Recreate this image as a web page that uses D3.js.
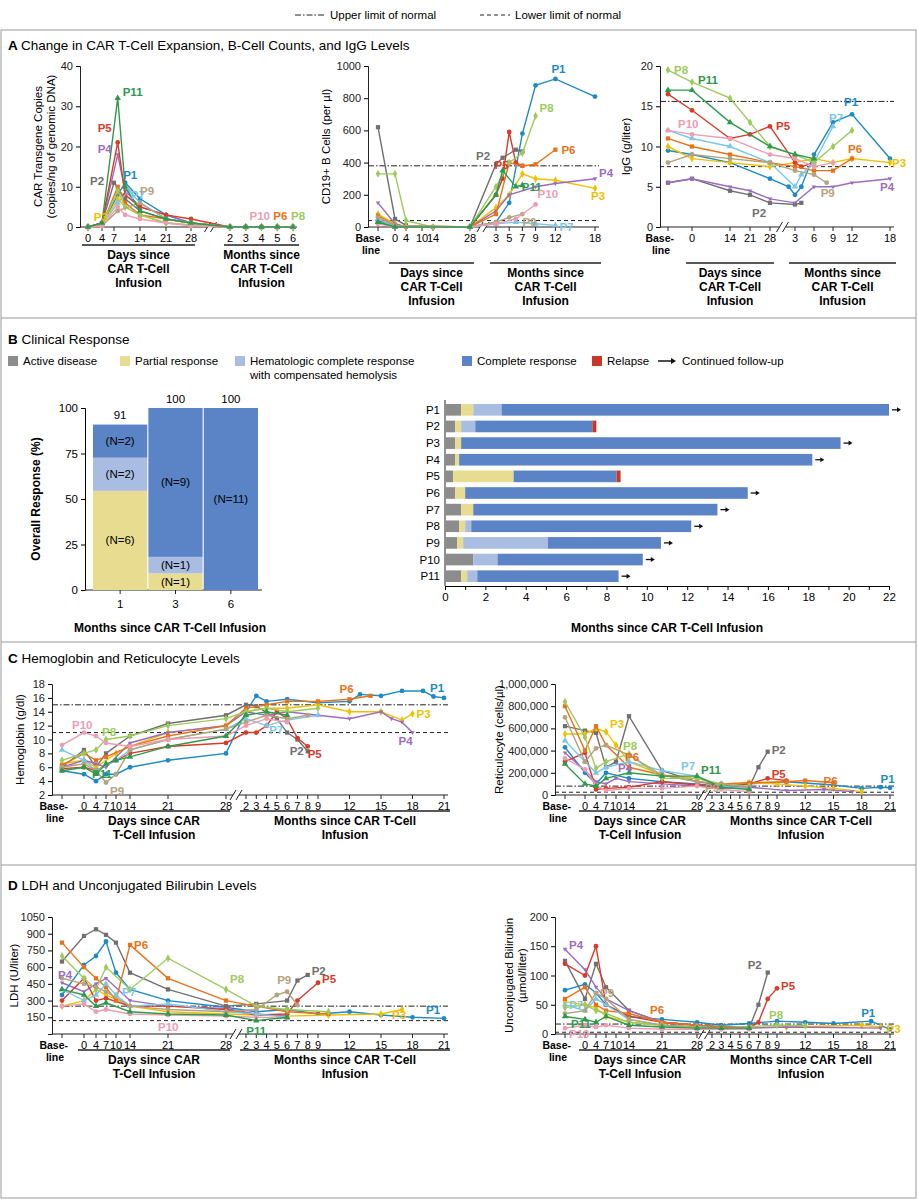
<!DOCTYPE html>
<html><head><meta charset="utf-8">
<script src="https://cdn.jsdelivr.net/npm/d3@7"></script>
<style>
body{margin:0;background:#fff;font-family:"Liberation Sans",Arial,sans-serif}
text{font-family:"Liberation Sans",Arial,sans-serif}
</style></head><body>
<svg id="chart" width="918" height="1200"></svg>
<script>
// ---------- data ----------
const patients = ["P1","P2","P3","P4","P5","P6","P7","P8","P9","P10","P11"];
const colors = ["#1d8ac4","#707070","#f0c000","#9b6cc0","#d83b2a","#e8721a","#7cc6ea","#9ccb5c","#b3a37e","#ee9cb2","#2e9a4c"];
const symbols = ["circle","square","diamond","triangleDown","circle","square","triangle","diamond","circle","circle","triangle"];
// time: "B" = baseline, <100 = days, >=100 = 100 + months
const monthsZero = [[102,0],[103,0],[104,0],[105,0],[106,0]];
const carT = {
  P1:[[0,0],[4,0.5],[8,8],[10,11],[14,7],[21,3],[28,1]],
  P2:[[0,0],[4,1],[7,11],[10,7],[14,4],[21,2],[28,1]],
  P3:[[0,0],[4,0.5],[8,7],[10,5],[14,3],[21,1],[28,0.5]],
  P4:[[0,0],[4,1],[8,18],[10,9],[14,5],[21,3],[28,1]],
  P5:[[0,0],[4,1],[8,21],[10,8],[14,5],[21,3],[28,2]],
  P6:[[0,0],[4,0.5],[8,10],[10,6],[14,3],[21,2],[28,1]],
  P7:[[0,0],[4,0.5],[8,6],[11,9],[14,6],[21,2],[28,1]],
  P8:[[0,0],[4,0.5],[8,9],[10,5],[14,3],[21,1],[28,0.5]],
  P9:[[0,0],[4,0.3],[8,4],[14,6],[21,2],[28,1]],
  P10:[[0,0],[4,0.2],[8,5],[10,3],[14,2],[21,1],[28,0.3]],
  P11:[[0,0],[4,1],[8,32],[10,10],[14,4],[21,2],[28,1]]
};
const cd19 = {
  P1:[["B",40],[0,10],[4,0],[14,0],[28,0],[103,30],[105,150],[107,580],[109,880],[112,920],[118,810]],
  P2:[["B",620],[0,50],[4,10],[14,0],[28,0],[103,390],[104,430],[106,480],[107,470]],
  P3:[["B",80],[0,20],[4,0],[28,0],[103,120],[105,200],[107,330],[109,300],[112,290],[118,240]],
  P4:[["B",150],[0,20],[4,0],[28,0],[103,100],[105,200],[109,250],[112,270],[118,300]],
  P5:[["B",30],[0,0],[28,0],[103,200],[104,300],[105,590],[106,400],[107,380]],
  P6:[["B",70],[0,10],[28,0],[103,80],[105,400],[107,380],[109,390],[112,480]],
  P7:[["B",50],[0,0],[28,0],[103,20],[106,30],[109,20],[112,10]],
  P8:[["B",330],[0,330],[4,40],[14,0],[28,0],[103,250],[105,400],[107,460],[109,690]],
  P9:[["B",60],[0,10],[28,0],[103,30],[105,60],[107,80]],
  P10:[["B",20],[0,0],[28,0],[103,20],[106,50],[109,140]],
  P11:[["B",30],[0,0],[28,0],[103,200],[104,350],[106,250],[107,260]]
};
const igg = {
  P1:[["B",9.5],[0,9],[14,8],[28,6],[102,5],[103,4],[104,5],[106,9],[109,13],[112,14],[118,8.5]],
  P2:[["B",5.5],[0,6],[14,4.5],[21,4],[28,3],[103,2.8],[104,3]],
  P3:[["B",10],[0,8.5],[14,8],[28,7.5],[103,8],[106,8.5],[109,8],[112,8.5],[118,8]],
  P4:[["B",5.5],[0,6],[14,5],[21,4.5],[28,3.5],[103,3],[106,5],[109,5],[112,5.5],[118,6]],
  P5:[["B",16.5],[0,14.5],[14,11],[21,11.5],[28,12.5],[103,8],[104,7.5],[106,8]],
  P6:[["B",11],[0,10],[14,9],[28,8],[103,7.5],[106,7],[109,7],[112,8.5]],
  P7:[["B",12],[0,11],[14,10],[28,8],[103,5],[104,6.5],[106,8],[109,12.5]],
  P8:[["B",19.5],[0,18],[14,16],[21,13],[28,10],[103,9],[106,8],[109,10],[112,12]],
  P9:[["B",8],[0,9],[14,8.5],[28,8],[103,7],[106,6.5],[108,5.5]],
  P10:[["B",12],[0,11.5],[14,11],[28,9],[103,8.5],[106,7.5],[109,8]],
  P11:[["B",17],[0,17],[14,13],[28,10],[103,9],[106,8.5]]
};
const hb = {
  P1:[["B",5.5],[0,5],[4,4],[7,5],[10,5],[14,6],[21,7],[28,8],[102,14],[103,16.3],[104,15.5],[106,15.8],[109,15.3],[112,15.5],[113,16.5],[115,16.3],[117,17],[119,17],[120,16.2],[121,16]],
  P2:[["B",6],[0,8.5],[4,6],[7,8],[14,10.5],[21,12.3],[28,13.5],[102,15],[103,14.8],[105,13],[106,11],[107,10],[108,8.3]],
  P3:[["B",6.5],[0,7],[4,6],[10,8],[14,9],[21,11],[28,12],[102,14],[104,14.5],[106,14.5],[109,15],[112,14],[115,14],[117,12.8],[118,13.7]],
  P4:[["B",6],[0,7],[4,6.5],[7,6],[14,9.5],[21,11],[28,12],[102,14],[104,13.5],[106,14],[109,13.5],[112,13],[115,14],[116,13],[117,12.5],[118,11]],
  P5:[["B",5.8],[0,6],[4,5.5],[10,7],[14,8],[21,9],[28,9.5],[102,11],[103,11],[104,12],[105,14],[106,13],[107,10.2],[108,9]],
  P6:[["B",6.3],[0,8],[4,7],[7,7.5],[14,9],[21,10.5],[28,12],[102,14.5],[104,15],[106,15.5],[109,15.5],[112,15.8],[114,16.3]],
  P7:[["B",8.5],[0,7],[4,5.5],[10,7],[14,8.5],[21,10],[28,11.5],[102,13],[104,12],[106,12.8],[109,13.5]],
  P8:[["B",7],[0,8],[4,8.5],[7,10],[14,10.5],[21,12],[28,13],[102,14],[104,14.5],[106,14],[109,14.5]],
  P9:[["B",6],[0,6.5],[4,5.5],[7,3.8],[10,5],[14,8.5],[21,10],[28,11.5],[102,12.5],[104,13.5],[106,13],[108,13.5]],
  P10:[["B",9.2],[0,11],[4,10.5],[7,9.5],[14,9],[21,10],[28,10.5],[102,12],[104,13],[106,12.5]],
  P11:[["B",5.5],[0,6],[4,5],[7,6.5],[10,7],[14,7.5],[21,9],[28,10.5],[102,13.5],[104,14],[106,13.5]]
};
// reticulocytes in thousands of cells per microliter
const retic = {
  P1:[["B",430],[0,200],[4,100],[7,200],[14,150],[21,120],[28,100],[103,80],[106,100],[110,120],[115,90],[118,60],[120,70],[121,65]],
  P2:[["B",620],[0,580],[4,560],[7,250],[10,300],[14,710],[21,220],[28,120],[102,100],[104,80],[106,70],[107,250],[108,390]],
  P3:[["B",550],[0,550],[4,600],[7,570],[10,450],[14,300],[21,180],[28,150],[103,90],[106,110],[109,100],[112,80],[115,60],[118,30]],
  P4:[["B",380],[0,220],[4,120],[7,100],[10,150],[14,120],[21,100],[28,80],[103,60],[106,70],[110,40],[114,50],[117,30]],
  P5:[["B",300],[0,380],[4,50],[7,60],[14,70],[21,120],[28,90],[103,70],[106,100],[108,150],[110,130]],
  P6:[["B",800],[0,400],[4,620],[7,450],[14,250],[21,180],[28,120],[103,100],[106,110],[110,120],[112,130],[115,110]],
  P7:[["B",490],[0,300],[4,200],[7,250],[14,300],[21,220],[28,170],[103,80],[106,60]],
  P8:[["B",840],[0,520],[4,240],[7,300],[14,370],[21,150],[28,150],[103,100],[106,80]],
  P9:[["B",700],[0,300],[4,420],[7,450],[14,360],[21,180],[28,120],[103,100],[106,70]],
  P10:[["B",330],[0,230],[4,90],[7,40],[14,60],[21,60],[28,80],[103,50],[106,30]],
  P11:[["B",280],[0,100],[4,80],[7,150],[14,200],[21,170],[28,170],[103,70],[106,50]]
};
const ldh = {
  P1:[["B",350],[0,620],[4,700],[7,830],[10,550],[14,400],[21,300],[28,240],[103,200],[106,220],[109,180],[112,200],[115,170],[118,150],[121,140]],
  P2:[["B",650],[0,880],[4,940],[7,890],[10,820],[14,550],[21,400],[28,250],[103,270],[106,300],[107,480],[108,530]],
  P3:[["B",250],[0,300],[4,400],[7,350],[14,250],[21,200],[28,180],[103,170],[106,160],[110,170],[115,180],[117,220]],
  P4:[["B",460],[0,380],[4,450],[7,500],[14,300],[21,250],[28,230],[103,180],[106,160]],
  P5:[["B",300],[0,500],[4,300],[7,320],[14,250],[21,250],[28,220],[103,170],[106,180],[107,300],[109,460]],
  P6:[["B",820],[0,600],[4,500],[7,420],[10,300],[14,800],[21,500],[28,300],[103,250],[106,200],[110,180]],
  P7:[["B",400],[0,300],[4,350],[7,450],[10,350],[14,250],[21,270],[28,200],[103,180],[106,150]],
  P8:[["B",700],[0,500],[4,400],[7,600],[14,400],[21,680],[28,400],[103,250],[106,220],[110,200]],
  P9:[["B",500],[0,450],[4,420],[7,380],[14,250],[21,220],[28,200],[103,220],[105,350],[106,380],[107,260]],
  P10:[["B",250],[0,270],[4,200],[7,220],[14,180],[21,170],[28,160],[103,150],[106,140]],
  P11:[["B",400],[0,350],[4,250],[7,280],[14,200],[21,180],[28,170],[103,120],[106,150]]
};
const bili = {
  P1:[["B",75],[0,85],[4,70],[7,50],[14,30],[21,25],[28,20],[103,15],[106,18],[109,22],[112,20],[115,18],[119,22],[121,8]],
  P2:[["B",125],[0,60],[4,120],[7,80],[14,40],[21,20],[28,15],[103,12],[106,10],[107,50],[108,105]],
  P3:[["B",55],[0,50],[4,45],[7,30],[14,20],[21,15],[28,12],[103,10],[110,12],[118,15],[120,12]],
  P4:[["B",145],[0,110],[4,80],[7,60],[14,40],[21,20],[28,15],[103,12],[106,10],[110,12],[120,10]],
  P5:[["B",120],[0,100],[4,150],[7,50],[14,30],[21,20],[28,15],[103,12],[106,10],[107,20],[108,60],[109,78]],
  P6:[["B",60],[0,80],[4,50],[7,40],[14,35],[21,20],[28,15],[103,12],[106,12]],
  P7:[["B",50],[0,40],[4,60],[7,50],[14,25],[21,15],[28,12],[103,10],[106,10]],
  P8:[["B",45],[0,50],[4,40],[7,35],[14,20],[21,15],[28,12],[103,10],[109,15],[112,14]],
  P9:[["B",35],[0,40],[4,70],[7,60],[14,25],[21,15],[28,12],[103,10],[106,12]],
  P10:[["B",10],[0,15],[4,12],[7,15],[14,10],[21,8],[28,8],[103,8],[106,8]],
  P11:[["B",30],[0,25],[4,20],[7,30],[14,15],[21,12],[28,10],[103,10],[106,10]]
};
// clinical response
const stateColors = ["#8c8c8c","#e8dc90","#a9bde3","#5a84c6","#c8382a"];
const barMonths = ["1","3","6"];
const barTotals = [91,100,100];
const barStacks = [ // [state index, percent, N]
  [[1,54.5,6],[2,18.2,2],[3,18.2,2]],
  [[1,9.1,1],[2,9.1,1],[3,81.8,9]],
  [[3,100,11]]
];
const swim = { // [state, start month, end month]
  P1:[[0,0,0.8],[1,0.8,1.4],[2,1.4,2.8],[3,2.8,22]],
  P2:[[0,0,0.5],[1,0.5,0.8],[2,0.8,1.5],[3,1.5,7.3],[4,7.3,7.5]],
  P3:[[0,0,0.5],[1,0.5,0.8],[3,0.8,19.6]],
  P4:[[0,0,0.5],[1,0.5,0.7],[3,0.7,18.2]],
  P5:[[0,0,0.4],[1,0.4,3.4],[3,3.4,8.5],[4,8.5,8.7]],
  P6:[[0,0,0.5],[1,0.5,1],[3,1,15]],
  P7:[[0,0,0.8],[1,0.8,1.4],[3,1.4,13.5]],
  P8:[[0,0,0.7],[1,0.7,1],[2,1,1.3],[3,1.3,12.2]],
  P9:[[0,0,0.6],[1,0.6,0.9],[2,0.9,5.1],[3,5.1,10.7]],
  P10:[[0,0,1.4],[2,1.4,2.6],[3,2.6,9.8]],
  P11:[[0,0,0.8],[1,0.8,1.1],[2,1.1,1.6],[3,1.6,8.6]]
};
const continuing = ["P1","P3","P4","P6","P7","P8","P9","P10","P11"];

// ---------- drawing ----------
const svg = d3.select("#chart");
const col = p => colors[patients.indexOf(p)];

svg.append("rect").attr("x",1).attr("y",30).attr("width",915).attr("height",1168)
  .attr("fill","none").attr("stroke","#999");
[318,642,865].forEach(y => svg.append("line").attr("x1",1).attr("x2",916).attr("y1",y).attr("y2",y).attr("stroke","#999"));

// top legend
const tl = svg.append("g").attr("font-size",11.5);
tl.append("line").attr("x1",295).attr("x2",325).attr("y1",15).attr("y2",15).attr("stroke","#222").attr("stroke-dasharray","6,2,1.5,2");
tl.append("text").attr("x",330).attr("y",19).text("Upper limit of normal");
tl.append("line").attr("x1",480).attr("x2",510).attr("y1",15).attr("y2",15).attr("stroke","#222").attr("stroke-dasharray","4,3");
tl.append("text").attr("x",515).attr("y",19).text("Lower limit of normal");

function title(x,y,letter,txt){
  const t = svg.append("text").attr("x",x).attr("y",y).attr("font-size",13.5);
  t.append("tspan").attr("font-weight","bold").text(letter+"  ");
  t.append("tspan").text(txt);
}
title(8,50,"A","Change in CAR T-Cell Expansion, B-Cell Counts, and IgG Levels");
title(8,344,"B","Clinical Response");
title(8,663,"C","Hemoglobin and Reticulocyte Levels");
title(8,890,"D","LDH and Unconjugated Bilirubin Levels");

d3.symbolTriangleDown = {draw(ctx,size){const r=Math.sqrt(size/(3*Math.sqrt(3)))*1.2;ctx.moveTo(-r,-r*0.6);ctx.lineTo(r,-r*0.6);ctx.lineTo(0,r*1.1);ctx.closePath();}};
const symOf = i => ({circle:d3.symbolCircle,square:d3.symbolSquare,diamond:d3.symbolDiamond,triangle:d3.symbolTriangle,triangleDown:d3.symbolTriangleDown})[symbols[i]];

// monDom/monRange may be polylinear (several stops)
function linePanel(c){
  const g = svg.append("g").attr("font-size",11);
  const y = d3.scaleLinear().domain(c.yDomain).range([c.yBottom,c.yTop]);
  const dx = d3.scaleLinear().domain(c.dayDom).range(c.dayRange);
  const mx = d3.scaleLinear().domain(c.monDom).range(c.monRange);
  const xp = t => t==="B" ? c.bx : (t<100 ? dx(t) : mx(t-100));
  const monEnd = c.monRange[c.monRange.length-1];
  // y axis
  const ya = g.append("g").attr("transform",`translate(${c.ax},0)`)
    .call(d3.axisLeft(y).tickValues(c.yTicks).tickSize(4).tickFormat(c.yFmt||d3.format("d")));
  ya.select(".domain").attr("stroke","#222");
  ya.selectAll("text").attr("font-size",11).attr("fill","#222");
  g.append("text").attr("transform",`translate(${c.ax-c.ylabOff},${(c.yTop+c.yBottom)/2}) rotate(-90)`)
    .attr("text-anchor","middle").attr("font-size",11.5).selectAll("tspan").data(c.ylab).join("tspan")
    .attr("x",0).attr("dy",(d,i)=>i?13:(-(c.ylab.length-1)*6.5)).text(d=>d);
  // x axis with break
  const xb = c.yBottom;
  const brk = (c.dayRange[c.dayRange.length-1]+c.monRange[0])/2;
  g.append("path").attr("d",`M${c.ax},${xb}H${brk-3}M${brk+3},${xb}H${monEnd+4}`).attr("stroke","#222");
  [-3,3].forEach(o=>g.append("line").attr("x1",brk+o-3).attr("x2",brk+o+3).attr("y1",xb+5).attr("y2",xb-5).attr("stroke","#222"));
  const ticks = [];
  if(c.bx) ticks.push(["B",""]);
  c.dayTicks.forEach(d=>ticks.push([d,d]));
  c.monTicks.forEach(m=>ticks.push([100+m,m]));
  ticks.forEach(([t,l])=>{
    g.append("line").attr("x1",xp(t)).attr("x2",xp(t)).attr("y1",xb).attr("y2",xb+4).attr("stroke","#222");
    if(l!=="") g.append("text").attr("x",xp(t)).attr("y",xb+15).attr("text-anchor","middle").text(l);
  });
  if(c.bx){
    const bl = g.append("g").attr("font-weight","bold").attr("font-size",10.5).attr("text-anchor","end");
    bl.append("text").attr("x",xp("B")+6).attr("y",xb+15).text("Base-");
    bl.append("text").attr("x",xp("B")+2).attr("y",xb+27).text("line");
  }
  const grp = (x1,x2,lines) => {
    g.append("line").attr("x1",x1).attr("x2",x2).attr("y1",xb+c.grpY).attr("y2",xb+c.grpY).attr("stroke","#222").attr("stroke-width",1.5);
    g.append("text").attr("text-anchor","middle").attr("font-weight","bold").attr("font-size",12)
      .selectAll("tspan").data(lines).join("tspan").attr("x",(x1+x2)/2).attr("y",(d,i)=>xb+c.grpY+14+i*14).text(d=>d);
  };
  grp(c.dayRange[0]-6,c.dayRange[c.dayRange.length-1]+4,c.dayLab);
  grp(c.monRange[0]-6,monEnd+6,c.monLab);
  // limits
  const x0 = c.ax, x1 = monEnd+4;
  if(c.uln!=null) g.append("line").attr("x1",x0).attr("x2",x1).attr("y1",y(c.uln)).attr("y2",y(c.uln)).attr("stroke","#222").attr("stroke-dasharray","6,2,1.5,2");
  if(c.lln!=null) g.append("line").attr("x1",x0).attr("x2",x1).attr("y1",y(c.lln)).attr("y2",y(c.lln)).attr("stroke","#222").attr("stroke-dasharray","4,3");
  // series
  const line = d3.line().x(d=>xp(d[0])).y(d=>y(d[1]));
  patients.forEach((p,i)=>{
    let s = c.data[p]; if(!s) return;
    if(c.extra) s = s.concat(c.extra);
    g.append("path").attr("d",line(s)).attr("fill","none").attr("stroke",colors[i]).attr("stroke-width",1.4);
    g.selectAll(null).data(s).join("path")
      .attr("transform",d=>`translate(${xp(d[0])},${y(d[1])})`)
      .attr("d",d3.symbol().type(symOf(i)).size(18))
      .attr("fill",colors[i]);
  });
  (c.labels||[]).forEach(([p,idx,ox,oy])=>{
    const s = c.data[p].concat(c.extra||[]);
    const d = s[Math.min(idx,s.length-1)];
    g.append("text").attr("x",xp(d[0])+ox).attr("y",y(d[1])+oy).attr("fill",col(p))
      .attr("font-weight","bold").attr("font-size",11.5).text(p);
  });
  return {xp,y};
}

const dayL3 = ["Days since","CAR T-Cell","Infusion"], monL3 = ["Months since","CAR T-Cell","Infusion"];
// A1 CAR T
const a1 = linePanel({data:carT, extra:monthsZero, yDomain:[0,40], yTicks:[0,10,20,30,40], yTop:66, yBottom:227,
  ax:80, bx:null, dayDom:[0,4,7,14,21,28], dayRange:[88,102,114,140,166,191], monDom:[2,6], monRange:[230,293],
  dayTicks:[0,4,7,14,21,28], monTicks:[2,3,4,5,6], ylab:["CAR Transgene Copies","(copies/ng of genomic DNA)"], ylabOff:32,
  grpY:18, dayLab:dayL3, monLab:monL3,
  labels:[["P11",2,5,-2],["P5",2,-20,-10],["P4",2,-20,-2],["P1",3,-2,-4],["P2",2,-24,2],["P7",3,2,8],["P3",2,-24,22],["P9",3,0,-8]]});
[["P10",104,-12],["P6",105,-4],["P8",106,-2]].forEach(([p,t,o])=>svg.append("text").attr("x",a1.xp(t)+o).attr("y",220)
  .attr("fill",col(p)).attr("font-weight","bold").attr("font-size",11.5).text(p));
// A2 CD19
linePanel({data:cd19, yDomain:[0,1000], yTicks:[0,200,400,600,800,1000], yTop:66, yBottom:227,
  ax:368, bx:378, dayDom:[0,4,10,14,28], dayRange:[395,406,422,433,470], monDom:[3,18], monRange:[496,595],
  dayTicks:[0,4,10,14,28], monTicks:[3,5,7,9,12,18], ylab:["CD19+ B Cells (per µl)"], ylabOff:38, uln:380, lln:40,
  grpY:36, dayLab:dayL3, monLab:monL3,
  labels:[["P1",9,-4,-6],["P8",8,4,-4],["P5",4,-8,-10],["P6",7,6,4],["P2",5,-20,-4],["P11",5,6,4],["P4",8,4,-2],["P3",9,-4,12],["P10",5,2,-6],["P9",5,0,12],["P7",6,4,6]]});
// A3 IgG
linePanel({data:igg, yDomain:[0,20], yTicks:[0,5,10,15,20], yTop:66, yBottom:227,
  ax:660, bx:668, dayDom:[0,14,21,28], dayRange:[692,730,750,770], monDom:[3,18], monRange:[795,890],
  dayTicks:[0,14,21,28], monTicks:[3,6,9,12,18], ylab:["IgG (g/liter)"], ylabOff:30, uln:15.6, lln:7.5,
  grpY:36, dayLab:dayL3, monLab:monL3,
  labels:[["P8",0,6,4],["P11",1,6,-6],["P10",0,10,-2],["P5",4,6,4],["P2",4,-18,14],["P1",9,-8,-8],["P7",8,-4,-4],["P6",7,-4,-6],["P3",8,2,4],["P9",6,-6,14],["P4",9,-10,12]]});

// ---- B: bar chart ----
const bg = svg.append("g").attr("font-size",11.5);
const lg = [[8,"Active disease"],[120,"Partial response"],[235,"Hematologic complete response"],[462,"Complete response"],[592,"Relapse"]];
lg.forEach(([x,t],i)=>{
  bg.append("rect").attr("x",x).attr("y",356).attr("width",10).attr("height",10).attr("fill",stateColors[i]);
  bg.append("text").attr("x",x+15).attr("y",365).text(t);
});
bg.append("text").attr("x",250).attr("y",379).text("with compensated hemolysis");
bg.append("line").attr("x1",658).attr("x2",674).attr("y1",361).attr("y2",361).attr("stroke","#111").attr("stroke-width",1.5);
bg.append("path").attr("d","M676,361l-5,-3v6z").attr("fill","#111");
bg.append("text").attr("x",682).attr("y",365).text("Continued follow-up");

const by = d3.scaleLinear().domain([0,100]).range([590,408]);
const bx = d3.scaleBand().domain(barMonths).range([93,258]).paddingInner(0.02);
const bya = bg.append("g").attr("transform","translate(85,0)").call(d3.axisLeft(by).tickValues([0,25,50,75,100]).tickSize(4));
bya.selectAll("text").attr("font-size",11.5);
bg.append("line").attr("x1",85).attr("x2",262).attr("y1",590).attr("y2",590).attr("stroke","#222");
bg.append("text").attr("transform","translate(40,499) rotate(-90)").attr("text-anchor","middle").attr("font-weight","bold").attr("font-size",12).text("Overall Response (%)");
barStacks.forEach((st,i)=>{
  let acc = 0;
  const cx = bx(barMonths[i])+bx.bandwidth()/2;
  st.forEach(([s,v,n])=>{
    bg.append("rect").attr("x",bx(barMonths[i])).attr("width",bx.bandwidth()).attr("y",by(acc+v)).attr("height",by(acc)-by(acc+v)).attr("fill",stateColors[s]);
    bg.append("text").attr("x",cx).attr("y",(by(acc)+by(acc+v))/2+4).attr("text-anchor","middle").text(`(N=${n})`);
    acc += v;
  });
  bg.append("text").attr("x",cx).attr("y",by(barTotals[i])-5).attr("text-anchor","middle").text(barTotals[i]);
  bg.append("line").attr("x1",cx).attr("x2",cx).attr("y1",590).attr("y2",594).attr("stroke","#222");
  bg.append("text").attr("x",cx).attr("y",608).attr("text-anchor","middle").text(barMonths[i]);
});
bg.append("text").attr("x",170).attr("y",632).attr("text-anchor","middle").attr("font-weight","bold").attr("font-size",12).text("Months since CAR T-Cell Infusion");

// swimlane
const sx = d3.scaleLinear().domain([0,22]).range([445,889]);
const sy = d3.scaleBand().domain(patients).range([404,582]).paddingInner(0.3);
const sxa = bg.append("g").attr("transform","translate(0,586)").call(d3.axisBottom(sx).tickValues(d3.range(0,23,1)).tickSize(4)
  .tickFormat(d=>d%2===0?d:""));
sxa.selectAll("text").attr("font-size",11.5);
bg.append("line").attr("x1",445).attr("x2",445).attr("y1",400).attr("y2",586).attr("stroke","#222");
patients.forEach(p=>{
  bg.append("text").attr("x",440).attr("y",sy(p)+sy.bandwidth()/2+4).attr("text-anchor","end").text(p);
  swim[p].forEach(([s,a,b])=>bg.append("rect").attr("x",sx(a)).attr("width",sx(b)-sx(a)).attr("y",sy(p)).attr("height",sy.bandwidth()).attr("fill",stateColors[s]));
  if(continuing.includes(p)){
    const e = sx(swim[p][swim[p].length-1][2]), yy = sy(p)+sy.bandwidth()/2;
    bg.append("line").attr("x1",e+3).attr("x2",e+9).attr("y1",yy).attr("y2",yy).attr("stroke","#111").attr("stroke-width",1.3);
    bg.append("path").attr("d",`M${e+12},${yy}l-4,-2.5v5z`).attr("fill","#111");
  }
});
bg.append("text").attr("x",667).attr("y",632).attr("text-anchor","middle").attr("font-weight","bold").attr("font-size",12).text("Months since CAR T-Cell Infusion");

// ---- C & D ----
const leftX = {ax:52, bx:62, dayDom:[0,4,7,10,14,21,28], dayRange:[84,96,106,116,130,168,226],
  monDom:[2,9,21], monRange:[246,318,444]};
const rightX = {ax:555, bx:565, dayDom:[0,4,7,10,14,21,28], dayRange:[585,596,606,616,629,662,697],
  monDom:[2,9,21], monRange:[712,777,890]};
const dTicks = [0,4,7,10,14,21,28], mTicks = [2,3,4,5,6,7,8,9,12,15,18,21];
const dl2 = ["Days since CAR","T-Cell Infusion"], ml2 = ["Months since CAR T-Cell","Infusion"];

linePanel(Object.assign({}, leftX, {data:hb, yDomain:[2,18], yTicks:[2,4,6,8,10,12,14,16,18], yTop:684, yBottom:795,
  dayTicks:dTicks, monTicks:mTicks, ylab:["Hemoglobin (g/dl)"], ylabOff:28, uln:15, lln:11, grpY:16, dayLab:dl2, monLab:ml2,
  labels:[["P1",19,-14,-6],["P6",11,-10,-6],["P3",14,4,4],["P4",15,-14,12],["P5",13,0,12],["P2",12,-18,4],["P7",9,-18,14],["P10",1,-12,-4],["P8",3,-4,-4],["P9",3,4,12],["P11",3,-14,14]]}));
linePanel(Object.assign({}, rightX, {data:retic, yDomain:[0,1000], yTicks:[0,200,400,600,800,1000], yTop:684, yBottom:795,
  yFmt:d=>d3.format(",")(d*1000), dayTicks:dTicks, monTicks:mTicks, ylab:["Reticulocyte (cells/µl)"], ylabOff:52, uln:80, lln:25, grpY:16, dayLab:dl2, monLab:ml2,
  labels:[["P2",12,4,2],["P3",3,4,-4],["P6",4,-4,-6],["P8",4,-6,-4],["P4",4,2,-6],["P7",6,-16,-6],["P11",6,4,-2],["P9",6,8,10],["P5",9,4,0],["P6",13,-10,2],["P1",12,0,-4]]}));
linePanel(Object.assign({}, leftX, {data:ldh, yDomain:[0,1050], yTicks:[150,300,450,600,750,900,1050], yTop:917, yBottom:1034,
  dayTicks:dTicks, monTicks:mTicks, ylab:["LDH (U/liter)"], ylabOff:34, uln:250, lln:120, grpY:16, dayLab:dl2, monLab:ml2,
  labels:[["P6",5,4,4],["P8",6,4,-6],["P2",11,4,0],["P5",10,4,0],["P9",9,-10,-8],["P7",5,-8,-10],["P4",0,-4,-4],["P10",5,-10,16],["P11",7,-10,14],["P3",11,-10,10],["P1",14,-18,-4]]}));
linePanel(Object.assign({}, rightX, {data:bili, yDomain:[0,200], yTicks:[0,50,100,150,200], yTop:917, yBottom:1034,
  dayTicks:dTicks, monTicks:mTicks, ylab:["Unconjugated Bilirubin","(µmol/liter)"], ylabOff:36, uln:17, lln:3, grpY:16, dayLab:dl2, monLab:ml2,
  labels:[["P4",0,4,0],["P2",10,-20,-4],["P5",11,4,2],["P7",0,4,4],["P11",0,6,12],["P9",3,-6,-2],["P6",5,-12,-8],["P10",0,4,10],["P8",8,-8,-6],["P1",12,-10,-4],["P3",10,6,6]]}));
</script></body></html>
